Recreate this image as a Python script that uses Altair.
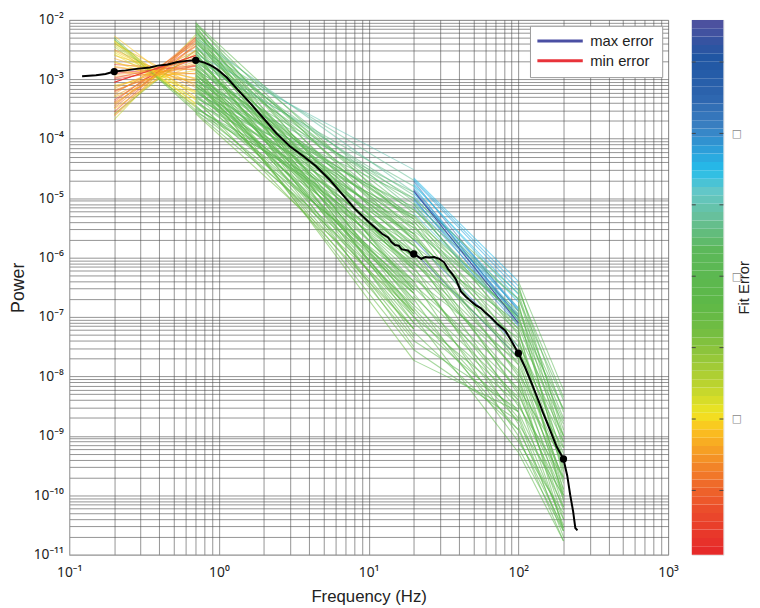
import altair as alt
import pandas as pd

# ---------------- axis ticks / labels ----------------
X_TICKS = [0.1, 1.0, 10.0, 100.0, 1000.0]
X_LABELS = ["10⁻¹", "10⁰", "10¹", "10²", "10³"]
Y_TICKS = [1e-11, 1e-10, 1e-9, 1e-8, 1e-7, 1e-6, 1e-5, 1e-4, 1e-3, 1e-2]
Y_LABELS = ["10⁻¹¹", "10⁻¹⁰", "10⁻⁹", "10⁻⁸", "10⁻⁷", "10⁻⁶", "10⁻⁵", "10⁻⁴", "10⁻³", "10⁻²"]
MANTISSAS = [1, 2, 3, 4, 5, 6, 7, 8, 9]
X_EXPONENTS = [-1, 0, 1, 2]
Y_EXPONENTS = [-11, -10, -9, -8, -7, -6, -5, -4, -3]

# ---------------- black PSD line ----------------
PSD_F = [0.122, 0.151, 0.175, 0.2, 0.238, 0.29, 0.347, 0.39, 0.456, 0.53, 0.61, 0.7,
         0.80, 0.889, 0.974, 1.13, 1.32, 1.63, 1.99, 2.42, 2.99, 3.65, 4.44, 5.49, 6.70,
         8.15, 10.1, 12.3, 13.5, 14.2, 15.0, 15.9, 16.6, 17.4, 18.3, 19.0, 20.0,
         22.5, 23.9, 25.4, 27.4, 29.6, 31.9, 33.9, 36.0, 38.3, 41.3, 44.6, 48.1, 51.9,
         56.0, 60.4, 65.2, 72.4, 81.8, 88.3, 100.0,
         111, 120, 133, 146, 162, 180, 200, 212, 222, 232, 240, 248]
PSD_LOGP = [-2.95, -2.93, -2.91, -2.87, -2.85, -2.82, -2.80, -2.77, -2.75, -2.71, -2.69, -2.68,
            -2.72, -2.77, -2.83, -2.97, -3.16, -3.41, -3.66, -3.91, -4.13, -4.29, -4.46, -4.69, -4.94,
            -5.19, -5.41, -5.60, -5.66, -5.74, -5.79, -5.80, -5.86, -5.87, -5.88, -5.92, -5.94,
            -6.02, -5.99, -6.00, -5.99, -6.02, -6.08, -6.19, -6.27, -6.37, -6.57, -6.66, -6.73, -6.80,
            -6.85, -6.93, -7.00, -7.12, -7.23, -7.37, -7.61,
            -7.85, -8.06, -8.34, -8.61, -8.89, -9.18, -9.39, -9.67, -10.00, -10.27, -10.55, -10.59]

BREAK_F = [0.2, 0.7, 20.0, 100.0, 200.0]
BREAK_LOGP = [-2.87, -2.68, -5.94, -7.61, -9.39]

# ---------------- piecewise fits (log10 power at segment start / end, fit error) ----------------
A_EDGES = [0.2, 0.7]
A_START = [-3.68, -3.62, -3.55, -3.50, -3.45, -3.40, -3.35, -3.30, -3.25, -3.20, -3.15, -3.10, -3.05,
           -3.00, -2.95, -2.90, -2.85, -2.80, -2.75, -2.70, -2.65, -2.60, -2.55, -2.50, -2.45, -2.40,
           -2.35, -2.30, -2.27, -3.58, -3.38, -3.18, -2.98, -2.78, -2.58, -2.38, -2.33, -2.42,
           -3.60, -3.42, -3.22, -3.12, -2.92, -2.72, -2.52, -2.36, -3.48, -3.28]
A_END = [-2.25, -2.40, -2.30, -2.56, -2.29, -2.53, -2.44, -2.75, -2.40, -2.65, -2.59, -2.85, -2.60,
         -2.78, -2.90, -2.77, -3.03, -2.91, -2.84, -3.21, -3.07, -3.00, -3.24, -3.14, -3.45, -3.11,
         -3.35, -3.52, -3.31, -2.51, -2.34, -2.73, -2.67, -3.02, -3.33, -3.47, -3.55, -3.40,
         -2.32, -2.45, -2.52, -2.70, -2.82, -2.98, -3.20, -3.42, -2.36, -2.62]
A_ERR = [1.4, 0.6, -0.2, 0.9, 0.3, 0.5, -0.5, 0.8, 0.4, -0.7, 0.7, 1.0, 0.1,
         -0.6, 0.6, -0.8, 0.8, 0.3, -0.4, 1.0, 0.6, 0.7, 1.1, 0.5, 1.6, 0.7,
         1.0, 2.2, 0.9, 1.9, 0.0, 0.6, -0.3, 0.8, 1.2, 1.7, 2.5, 1.3,
         0.4, 0.6, 0.5, 0.7, 0.5, 0.8, 0.9, 1.0, 0.2, 0.6]

B_EDGES = [0.7, 20.0]
B_START = [-2.05, -2.05, -2.10, -2.15, -2.18, -2.22, -2.25, -2.30, -2.32, -2.35, -2.38, -2.42, -2.45,
           -2.48, -2.50, -2.52, -2.55, -2.58, -2.60, -2.62, -2.65, -2.68, -2.70, -2.72, -2.75, -2.78,
           -2.80, -2.82, -2.85, -2.88, -2.90, -2.92, -2.95, -2.98, -3.00, -3.03, -3.05, -3.08, -3.10,
           -3.13, -3.16, -3.18, -3.20, -3.24, -3.27, -3.30, -3.33, -3.36, -3.40, -3.44, -3.48, -3.52,
           -3.55, -3.58, -2.40, -2.62, -2.85, -3.12, -2.20, -2.95,
           -2.08, -2.12, -2.16, -2.24, -2.28, -2.33, -2.37, -2.44, -2.47, -2.53, -2.57, -2.63, -2.66,
           -2.74, -2.77, -2.83, -2.87, -2.93, -2.97, -3.02, -3.07, -3.11, -3.15, -3.22, -3.26, -3.32,
           -3.38, -3.46, -3.50, -3.56]
B_END = [-5.45, -6.30, -6.90, -5.90, -7.30, -5.20, -6.50, -4.90, -7.00, -5.70, -6.20, -7.50, -4.70,
         -5.40, -6.70, -6.00, -7.20, -4.52, -5.60, -6.40, -5.10, -5.94, -6.90, -4.80, -6.20, -5.50,
         -7.73, -6.60, -5.00, -5.80, -7.10, -6.30, -5.30, -6.00, -7.40, -4.90, -6.70, -5.60, -6.40,
         -5.20, -7.00, -5.90, -6.20, -5.00, -6.60, -5.50, -7.20, -6.00, -5.30, -6.80, -5.80, -6.40,
         -5.60, -6.90, -5.25, -6.75, -6.45, -5.75, -6.10, -7.55,
         -5.70, -6.55, -7.10, -5.55, -6.80, -5.35, -6.00, -6.55, -5.05, -5.80, -6.95, -4.95, -6.15,
         -5.70, -7.35, -5.35, -6.95, -5.65, -6.85, -5.45, -6.15, -7.20, -6.55, -5.35, -6.05, -5.15,
         -6.50, -6.10, -5.45, -6.60]
B_ERR = [3.0, 2.9, 2.8, 3.1, 2.7, 3.6, 2.9, 3.9, 2.8, 3.2, 3.0, 2.6, 3.8,
         3.3, 2.9, 3.1, 2.7, 4.0, 3.2, 3.0, 3.5, 3.0, 2.8, 3.7, 3.0, 3.2,
         2.4, 2.9, 3.5, 3.1, 2.7, 3.0, 3.3, 3.1, 2.5, 3.6, 2.8, 3.2, 2.9,
         3.4, 2.6, 3.1, 3.0, 3.5, 2.8, 3.2, 2.4, 3.0, 3.3, 2.6, 3.1, 2.8,
         3.2, 2.3, 3.4, 2.9, 3.0, 3.1, 3.0, 2.5,
         3.0, 2.9, 2.7, 3.2, 2.8, 3.4, 3.1, 2.9, 3.6, 3.1, 2.7, 3.7, 3.0,
         3.1, 2.6, 3.3, 2.7, 3.1, 2.8, 3.2, 3.0, 2.6, 2.9, 3.3, 3.0, 3.4,
         2.8, 2.9, 3.2, 2.7]

C_EDGES = [20.0, 100.0]
C_START = [-4.66, -4.70, -4.72, -4.76, -4.80, -4.84, -4.88, -4.92, -4.96, -5.00, -5.05, -5.10, -5.15,
           -5.25, -5.90, -5.70,
           -5.00, -5.10, -5.20, -5.30, -5.35, -5.45, -5.50, -5.60, -5.65, -5.75, -5.80, -5.85, -5.95,
           -6.00, -6.05, -6.15, -6.20, -6.30, -6.40, -6.50, -6.60, -6.70, -6.80, -6.90, -6.99, -7.10,
           -7.25, -7.40, -7.55, -7.73, -5.40, -6.10,
           -4.68, -4.78, -4.90, -5.02, -4.86, -5.08, -5.18, -5.28, -5.38, -5.48, -5.58, -5.68, -5.78,
           -5.88, -6.08, -6.25, -6.45, -6.65, -6.85, -7.00, -6.35, -5.55]
C_END = [-6.40, -6.55, -6.90, -6.70, -7.05, -6.85, -7.10, -6.75, -6.95, -7.12, -6.85, -7.00, -7.15,
         -7.05, -7.68, -7.50,
         -6.60, -7.30, -6.70, -7.50, -6.90, -7.80, -7.20, -8.00, -7.40, -8.30, -7.10, -7.70, -8.50,
         -7.60, -8.10, -8.80, -7.90, -8.40, -9.00, -8.20, -8.70, -9.10, -8.40, -8.90, -9.28, -8.60,
         -8.90, -8.55, -8.75, -8.59, -7.00, -7.35,
         -6.48, -6.62, -6.88, -6.98, -7.00, -6.70, -7.05, -7.20, -7.60, -7.00, -7.70, -7.25, -7.95,
         -8.25, -7.80, -8.60, -8.05, -8.35, -8.75, -8.45, -7.75, -6.95]
C_ERR = [4.5, 4.7, 5.4, 4.4, 4.6, 4.8, 5.8, 4.5, 4.6, 5.0, 4.4, 4.7, 4.9,
         4.3, 6.0, 5.2,
         3.4, 3.2, 3.5, 3.0, 3.3, 2.9, 3.1, 2.8, 3.0, 2.9, 3.4, 3.0, 2.8,
         3.1, 2.9, 2.7, 3.0, 2.8, 2.7, 3.0, 2.8, 2.7, 2.9, 2.8, 2.7, 2.9,
         2.8, 3.0, 2.9, 3.0, 3.3, 3.2,
         4.6, 4.5, 4.7, 4.9, 5.5, 3.6, 3.4, 3.2, 3.0, 3.4, 2.9, 3.2, 2.9,
         2.8, 3.0, 2.8, 3.0, 2.9, 2.8, 2.9, 3.1, 3.5]

D_EDGES = [100.0, 200.0]
D_START = [-6.40, -6.50, -6.60, -6.70, -6.80, -6.90, -7.00, -7.05, -7.15, -7.25, -7.30, -7.40, -7.50,
           -7.55, -7.62, -7.70, -7.80, -7.90, -7.95, -8.05, -8.15, -8.20, -8.30, -8.40, -8.50, -8.60,
           -8.70, -8.80, -8.90, -9.00, -9.10, -9.28, -6.45, -6.75, -7.20, -8.00,
           -6.55, -6.65, -6.85, -6.95, -7.10, -7.35, -7.45, -7.65, -7.85, -8.10, -8.25, -8.45, -8.65,
           -8.85, -9.05, -9.20]
D_END = [-8.23, -8.60, -8.90, -8.40, -9.20, -8.70, -9.40, -8.55, -9.00, -9.60, -8.80, -9.30, -9.80,
         -9.10, -9.39, -10.00, -9.50, -10.20, -9.20, -9.70, -10.40, -9.40, -10.00, -10.55, -9.70, -10.20,
         -10.70, -10.00, -10.40, -10.77, -10.30, -10.77, -9.00, -9.70, -10.10, -10.60,
         -8.35, -9.10, -8.55, -9.55, -8.75, -9.90, -9.00, -9.75, -9.90, -9.95, -10.25, -10.05, -10.50,
         -10.60, -10.55, -10.60]
D_ERR = [3.3, 3.1, 3.0, 3.4, 2.9, 3.2, 2.8, 3.3, 3.0, 2.8, 3.2, 2.9, 2.8,
         3.0, 2.9, 2.7, 2.9, 2.7, 3.1, 2.8, 2.7, 3.0, 2.8, 2.7, 2.9, 2.8,
         2.7, 2.9, 2.8, 2.7, 2.9, 2.8, 3.0, 2.8, 2.7, 2.7,
         3.2, 2.9, 3.2, 2.8, 3.1, 2.7, 3.0, 2.8, 2.8, 2.8, 2.7, 2.8, 2.7,
         2.7, 2.8, 2.8]

# extreme fits shown in the legend
EXT_KIND = ["max error", "min error"]
EXT_EDGES = [[20.0, 100.0], [0.2, 0.7]]
EXT_LOGP = [[-4.88, -7.10], [-3.05, -2.60]]
EXT_COLORS = ["#4b4fa3", "#e8333a"]

# ---------------- colour map (Fit Error) ----------------
CMAP_POS = [-0.9, -0.30, 0.15, 0.52, 0.86, 1.08, 1.35, 1.72, 2.25, 2.62, 3.37, 3.82, 4.19,
            4.49, 4.79, 5.09, 5.54, 6.07, 6.59]
CMAP_COLORS = ["#e52629", "#eb4a2b", "#f0702a", "#f59a25", "#fbc21f", "#f1e522", "#cbd92b",
               "#a2cb36", "#72bd42", "#5db847", "#5cb85a", "#67c09a", "#62c7c8", "#25bdea",
               "#2d9cd8", "#3a80c2", "#2c63ad", "#2056a3", "#52509f"]
CB_DOMAIN = [-0.9, 6.59]
CB_TICKS = [0, 1, 2, 3, 4, 5, 6]
CB_BANDS = 64

# ---------------- build tables ----------------
rows = []
for name, edges, st, en, er in [("A", A_EDGES, A_START, A_END, A_ERR),
                                ("B", B_EDGES, B_START, B_END, B_ERR),
                                ("C", C_EDGES, C_START, C_END, C_ERR),
                                ("D", D_EDGES, D_START, D_END, D_ERR)]:
    for i, (s, e, r) in enumerate(zip(st, en, er)):
        lid = f"{name}{i:03d}"
        rows.append({"id": lid, "f": edges[0], "p": 10 ** s, "err": r})
        rows.append({"id": lid, "f": edges[1], "p": 10 ** e, "err": r})
fits_df = pd.DataFrame(rows)

ext_rows = []
for k, ed, lp in zip(EXT_KIND, EXT_EDGES, EXT_LOGP):
    for f, v in zip(ed, lp):
        ext_rows.append({"kind": k, "f": f, "p": 10 ** v})
ext_df = pd.DataFrame(ext_rows)

psd_df = pd.DataFrame({"f": PSD_F, "p": [10 ** v for v in PSD_LOGP]})
brk_df = pd.DataFrame({"f": BREAK_F, "p": [10 ** v for v in BREAK_LOGP]})

step = (CB_DOMAIN[1] - CB_DOMAIN[0]) / CB_BANDS
bands_df = pd.DataFrame({
    "lo": [CB_DOMAIN[0] + i * step for i in range(CB_BANDS)],
    "hi": [CB_DOMAIN[0] + (i + 1) * step for i in range(CB_BANDS)],
    "mid": [CB_DOMAIN[0] + (i + 0.5) * step for i in range(CB_BANDS)],
})
ticks_df = pd.DataFrame({"v": CB_TICKS})

# ---------------- helpers ----------------
def grid_values(exps, last):
    return [float(f"{m}e{e}") for e in exps for m in MANTISSAS] + [last]


def label_expr(ticks, labels):
    parts = [f"datum.value == {float(t)!r} ? '{l}'" for t, l in zip(ticks, labels)]
    return " : ".join(parts) + " : ''"


LABEL_FONT = "Noto Sans"
TITLE_FONT = "Liberation Sans"

x_axis = alt.Axis(values=grid_values(X_EXPONENTS, 1000.0), labelExpr=label_expr(X_TICKS, X_LABELS),
                  grid=True, gridColor="#4a4a4a", gridWidth=0.6, ticks=False, domainColor="#b0b0b0",
                  labelFont=LABEL_FONT, labelFontSize=14, labelColor="#222222", labelPadding=11,
                  labelOverlap=False, labelFlush=False, labelBound=False,
                  title="Frequency (Hz)", titleFont=TITLE_FONT, titleFontSize=17,
                  titleFontWeight="normal", titleColor="#222222", titlePadding=9)
y_axis = alt.Axis(values=grid_values(Y_EXPONENTS, 1e-2), labelExpr=label_expr(Y_TICKS, Y_LABELS),
                  grid=True, gridColor="#4a4a4a", gridWidth=0.6, ticks=False, domainColor="#b0b0b0",
                  labelFont=LABEL_FONT, labelFontSize=14, labelColor="#222222", labelPadding=6,
                  labelOverlap=False, labelFlush=False, labelBound=False,
                  title="Power", titleFont=TITLE_FONT, titleFontSize=18,
                  titleFontWeight="normal", titleColor="#222222", titlePadding=6)

x_scale = alt.Scale(type="log", domain=[0.1, 1000.0], nice=False)
y_scale = alt.Scale(type="log", domain=[1e-11, 1e-2], nice=False)
c_scale = alt.Scale(domain=CMAP_POS, range=CMAP_COLORS, interpolate="rgb")


def X():
    return alt.X("f:Q", scale=x_scale, axis=x_axis)


def Y():
    return alt.Y("p:Q", scale=y_scale, axis=y_axis)


fits = alt.Chart(fits_df).mark_line(strokeWidth=1.1, opacity=0.55, clip=True).encode(
    X(), Y(), detail="id:N",
    color=alt.Color("err:Q", scale=c_scale, legend=None),
)

extremes = alt.Chart(ext_df).mark_line(strokeWidth=1.0, clip=True).encode(
    X(), Y(), detail="kind:N",
    stroke=alt.Stroke("kind:N", scale=alt.Scale(domain=EXT_KIND, range=EXT_COLORS),
                      legend=alt.Legend(title=None, orient="top-right", offset=6,
                                        fillColor="white", strokeColor="#9a9a9a",
                                        padding=8, rowPadding=4,
                                        symbolType="M-4.6,0H4.6", symbolSize=100,
                                        symbolStrokeWidth=3, symbolOffset=15,
                                        labelFont=TITLE_FONT, labelFontSize=15,
                                        labelColor="#222222", labelOffset=23)),
)

psd = alt.Chart(psd_df).mark_line(color="black", strokeWidth=2, clip=True).encode(X(), Y())
dots = alt.Chart(brk_df).mark_circle(color="black", size=55, opacity=1).encode(X(), Y())

main = alt.layer(fits, extremes, psd, dots).properties(width=607, height=542)

# ---------------- colour bar ----------------
cb_scale = alt.Scale(domain=CB_DOMAIN, nice=False, zero=False)
cb_axis = alt.Axis(orient="right", values=CB_TICKS,
                   labelExpr="datum.value == 1 || datum.value == 3 || datum.value == 5 ? '□' : ''",
                   ticks=False, domain=False, grid=False,
                   labelFont="DejaVu Sans", labelFontSize=11, labelColor="#8a8a8a", labelPadding=8,
                   title="Fit Error", titleFont=TITLE_FONT, titleFontSize=15,
                   titleFontWeight="normal", titleColor="#222222", titleAngle=270, titlePadding=10)

cb_rect = alt.Chart(bands_df).mark_rect().encode(
    y=alt.Y("lo:Q", scale=cb_scale, axis=cb_axis), y2="hi:Q",
    color=alt.Color("mid:Q", scale=c_scale, legend=None),
)
tick_l = alt.Chart(ticks_df).mark_rule(color="#444444", strokeWidth=1).encode(
    y=alt.Y("v:Q", scale=cb_scale, axis=cb_axis), x=alt.value(0), x2=alt.value(4))
tick_r = alt.Chart(ticks_df).mark_rule(color="#444444", strokeWidth=1).encode(
    y=alt.Y("v:Q", scale=cb_scale, axis=cb_axis), x=alt.value(28), x2=alt.value(32))

cbar = alt.layer(cb_rect, tick_l, tick_r).properties(width=32, height=542)

chart = alt.hconcat(main, cbar, spacing=24, bounds="flush").resolve_legend(
    stroke="independent", color="independent"
).resolve_scale(stroke="independent").properties(
    padding={"left": 0, "top": 0, "right": 0, "bottom": 0}
).configure_view(stroke=None).configure(background="white")

chart.save("out.html", embed_options={"renderer": "svg", "actions": False})
